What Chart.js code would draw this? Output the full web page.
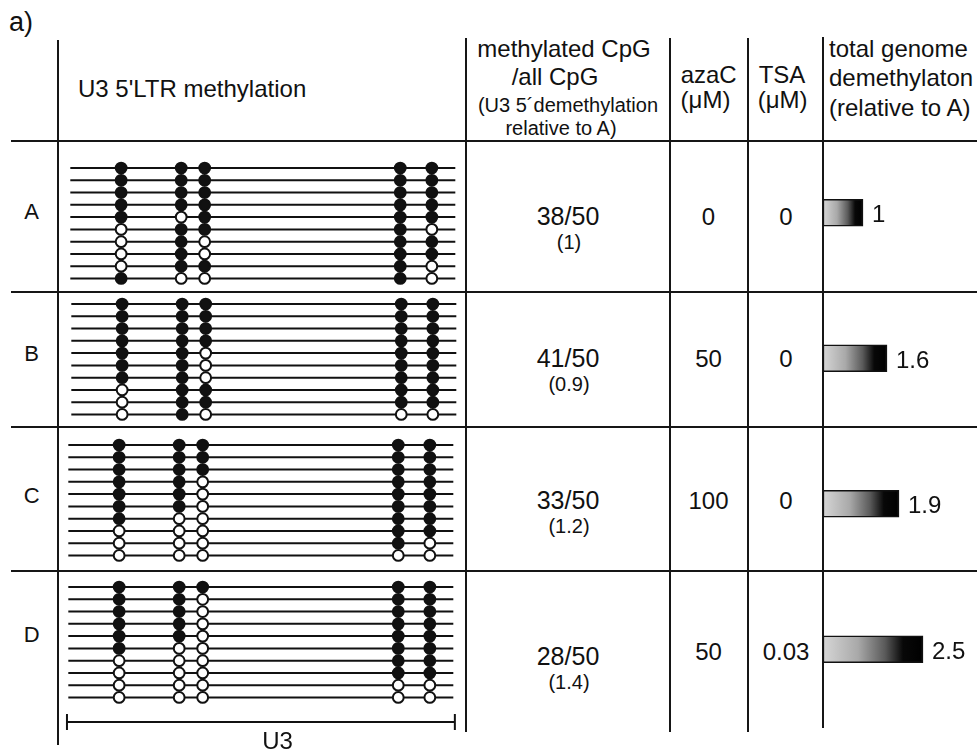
<!DOCTYPE html>
<html>
<head>
<meta charset="utf-8">
<title>U3 5'LTR methylation</title>
<script src="https://cdn.jsdelivr.net/npm/chart.js@4.4.1/dist/chart.umd.min.js"></script>
<style>
  body { margin: 0; background: #fff; }
  #fig { position: relative; width: 977px; height: 749px; overflow: hidden; background: #fff;
         font-family: "Liberation Sans", Arial, Helvetica, sans-serif; color: #111; }
  .txt { position: absolute; white-space: nowrap; line-height: 1; }
  .rule { position: absolute; background: #161616; }
  canvas { position: absolute; }
</style>
</head>
<body>
<div id="fig"></div>
<script>
// Datos
var samples = ['A', 'B', 'C', 'D'];
var cpgPos = [13.2, 28.8, 34.9, 85.7, 93.9];   // posicion de cada CpG a lo largo de U3 (0-100)
var u3Bar = [-0.35, 100.4];                     // extremos de la barra "U3"

// 1 = CpG metilado (negro), 0 = no metilado (blanco); un array por CpG, clones de arriba a abajo
var methA = [
    [1, 1, 1, 1, 1, 0, 0, 0, 0, 1],
    [1, 1, 1, 1, 0, 1, 1, 1, 1, 0],
    [1, 1, 1, 1, 1, 1, 0, 0, 1, 0],
    [1, 1, 1, 1, 1, 1, 1, 1, 1, 1],
    [1, 1, 1, 1, 1, 0, 1, 1, 0, 0]
];
var methB = [
    [1, 1, 1, 1, 1, 1, 1, 0, 0, 0],
    [1, 1, 1, 1, 1, 1, 1, 1, 1, 1],
    [1, 1, 1, 1, 0, 0, 0, 1, 1, 0],
    [1, 1, 1, 1, 1, 1, 1, 1, 1, 0],
    [1, 1, 1, 1, 1, 1, 1, 1, 1, 0]
];
var methC = [
    [1, 1, 1, 1, 1, 1, 1, 0, 0, 0],
    [1, 1, 1, 1, 1, 1, 0, 0, 0, 0],
    [1, 1, 1, 0, 0, 0, 0, 0, 0, 0],
    [1, 1, 1, 1, 1, 1, 1, 1, 1, 0],
    [1, 1, 1, 1, 1, 1, 1, 1, 0, 0]
];
var methD = [
    [1, 1, 1, 1, 1, 1, 0, 0, 0, 0],
    [1, 1, 1, 1, 1, 0, 0, 0, 0, 0],
    [1, 0, 0, 0, 0, 0, 0, 0, 0, 0],
    [1, 1, 1, 1, 1, 1, 1, 1, 0, 0],
    [1, 1, 1, 1, 1, 1, 1, 1, 0, 0]
];
var relU3 = ['(1)', '(0.9)', '(1.2)', '(1.4)'];
var azaC = ['0', '50', '100', '50'];
var tsa = ['0', '0', '0', '0.03'];
var genomeDemeth = [1, 1.6, 1.9, 2.5];

var fig = document.getElementById('fig');
var ROW_PX = 12.27;

function addText(str, x, baseline, size, align) {
    var d = document.createElement('div');
    d.className = 'txt';
    d.textContent = str;
    d.style.fontSize = size + 'px';
    d.style.top = (baseline - 0.8465 * size) + 'px';
    d.style.left = x + 'px';
    if (align === 'center') {
        d.style.transform = 'translateX(-50%)';
    }
    fig.appendChild(d);
}

function addRule(x, y, w, h) {
    var d = document.createElement('div');
    d.className = 'rule';
    d.style.left = x + 'px';
    d.style.top = y + 'px';
    d.style.width = w + 'px';
    d.style.height = h + 'px';
    fig.appendChild(d);
}

function addCanvas(left, top, w, h) {
    var c = document.createElement('canvas');
    c.width = w;
    c.height = h;
    c.style.left = left + 'px';
    c.style.top = top + 'px';
    fig.appendChild(c);
    return c;
}

function countMethylated(sites) {
    var n = 0;
    sites.forEach(function(col) {
        col.forEach(function(m) { n += m; });
    });
    return n;
}

// Grafico de piruletas (lollipop) para un panel
function createMethylationChart(sites, left, top, height, withScale) {
    var canvas = addCanvas(left, top, 400, height);
    var nClones = sites[0].length;
    var datasets = [];
    for (var r = 0; r < nClones; r++) {
        datasets.push({
            data: [{ x: 0, y: r }, { x: 100, y: r }],
            showLine: true,
            borderColor: '#111',
            borderWidth: 2,
            pointRadius: 0,
            order: 2
        });
    }
    var points = [];
    var fills = [];
    sites.forEach(function(col, s) {
        col.forEach(function(m, r) {
            points.push({ x: cpgPos[s], y: r });
            fills.push(m ? '#111' : '#fff');
        });
    });
    datasets.push({
        data: points,
        pointRadius: 5.4,
        pointBorderWidth: 2,
        pointBackgroundColor: fills,
        pointBorderColor: '#111',
        order: 1
    });
    if (withScale) {
        datasets.push({
            data: [{ x: u3Bar[0], y: nClones + 1 }, { x: u3Bar[1], y: nClones + 1 }],
            showLine: true,
            borderColor: '#111',
            borderWidth: 2,
            pointStyle: 'line',
            pointRotation: 90,
            pointRadius: 8,
            pointBorderWidth: 2,
            pointBorderColor: '#111',
            order: 2
        });
    }
    var xMin = -2.16;
    return new Chart(canvas, {
        type: 'scatter',
        data: { datasets: datasets },
        options: {
            responsive: false,
            animation: false,
            events: [],
            layout: { padding: 0, autoPadding: false },
            plugins: {
                legend: { display: false },
                tooltip: { enabled: false }
            },
            scales: {
                x: { type: 'linear', min: xMin, max: xMin + 400 / 3.85, display: false },
                y: { type: 'linear', min: -0.9, max: -0.9 + height / ROW_PX, reverse: true, display: false }
            }
        }
    });
}

function barGradient(ctx) {
    var chart = ctx.chart;
    if (!chart.chartArea || ctx.type !== 'data') {
        return '#888';
    }
    var xs = chart.scales.x;
    var x0 = xs.getPixelForValue(0);
    var x1 = xs.getPixelForValue(ctx.raw);
    var g = chart.ctx.createLinearGradient(x0, 0, x1, 0);
    g.addColorStop(0, '#d6d6d6');
    g.addColorStop(0.35, '#a9a9a9');
    g.addColorStop(0.62, '#5a5a5a');
    g.addColorStop(0.8, '#080808');
    g.addColorStop(1, '#000');
    return g;
}

var valueLabels = {
    id: 'valueLabels',
    afterDatasetsDraw: function(chart) {
        var c = chart.ctx;
        var meta = chart.getDatasetMeta(0);
        c.save();
        c.font = '24px "Liberation Sans", Arial, sans-serif';
        c.fillStyle = '#111';
        c.textBaseline = 'alphabetic';
        meta.data.forEach(function(bar, i) {
            c.fillText(String(chart.data.datasets[0].data[i]), bar.x + 9, bar.y + 9.5);
        });
        c.restore();
    }
};

// Lineas de la tabla
[140.7, 292, 427, 571].forEach(function(y) { addRule(11, y - 1, 966, 2); });
addRule(56.5, 40, 2, 705);
addRule(464.5, 38, 2, 694);
addRule(668.5, 38, 2, 694);
addRule(746.5, 38, 2, 694);
addRule(821.5, 37, 2, 691);

// Cabecera
addText('a)', 9, 32, 27, 'left');
addText("U3 5'LTR methylation", 78, 97, 24, 'left');
addText('methylated CpG', 564, 57, 24, 'center');
addText('/all CpG', 555, 85, 24, 'center');
addText('(U3 5\u00b4demethylation', 568, 112, 20, 'center');
addText('relative to A)', 561, 135, 20, 'center');
addText('azaC', 708.7, 83, 24, 'center');
addText('(\u03bcM)', 705.5, 108, 24, 'center');
addText('TSA', 782, 83, 24, 'center');
addText('(\u03bcM)', 782.7, 108, 24, 'center');
addText('total genome', 829, 57, 24, 'left');
addText('demethylaton', 829, 86.5, 24, 'left');
addText('(relative to A)', 829, 116, 24, 'left');

// Filas
var methAll = [methA, methB, methC, methD];
var panelLeft = [62, 63, 60, 60];
var panelTop = [157, 293, 434, 576];
var panelHeight = [135, 135, 135, 160];
var letterBase = [219.5, 362, 503.5, 643];
var ratioBase = [225, 367, 509, 665];
var drugBase = [225, 367, 509, 660];

samples.forEach(function(s, i) {
    var total = methAll[i].length * methAll[i][0].length;
    addText(s, 31.7, letterBase[i], 22, 'center');
    addText(countMethylated(methAll[i]) + '/' + total, 568, ratioBase[i], 25, 'center');
    addText(relU3[i], 569, ratioBase[i] + 24, 20, 'center');
    addText(azaC[i], 708.5, drugBase[i], 24, 'center');
    addText(tsa[i], 786, drugBase[i], 24, 'center');
    createMethylationChart(methAll[i], panelLeft[i], panelTop[i], panelHeight[i], i === 3);
});
addText('U3', 277.5, 749, 24, 'center');

// Barras de demetilacion del genoma total
var barCanvas = addCanvas(823, 140, 154, 582);
var barChart = new Chart(barCanvas, {
    type: 'bar',
    data: {
        labels: samples,
        datasets: [{
            data: genomeDemeth,
            backgroundColor: barGradient,
            borderColor: '#111',
            borderWidth: 1.5,
            borderSkipped: false,
            barThickness: 27
        }]
    },
    options: {
        indexAxis: 'y',
        responsive: false,
        animation: false,
        events: [],
        layout: { padding: 0, autoPadding: false },
        plugins: {
            legend: { display: false },
            tooltip: { enabled: false }
        },
        scales: {
            x: { min: 0, max: 154 / 40, display: false },
            y: { display: false }
        }
    },
    plugins: [valueLabels]
});
</script>
</body>
</html>
